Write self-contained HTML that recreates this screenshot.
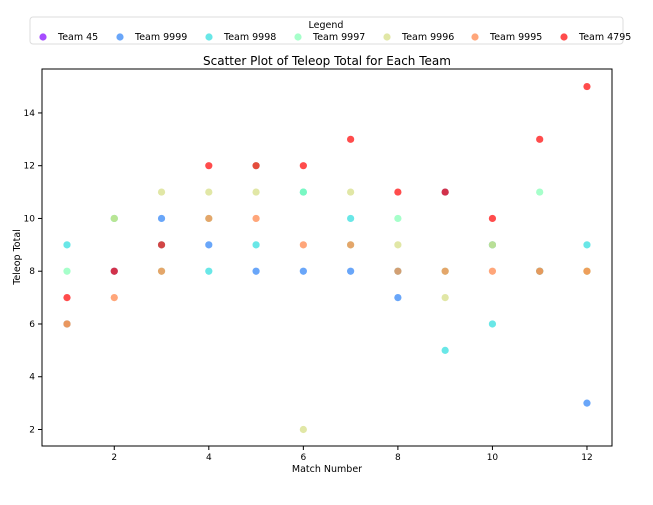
<!DOCTYPE html>
<html><head><meta charset="utf-8"><style>
body{margin:0;background:#fff;font-family:"Liberation Sans","DejaVu Sans",sans-serif;overflow:hidden}
svg text{font-family:"DejaVu Sans","Liberation Sans",sans-serif}
</style></head><body>
<svg id="chart" width="653" height="500" viewBox="0 0 653 500" xmlns="http://www.w3.org/2000/svg">
<rect x="30" y="17" width="593" height="27" rx="3" fill="#fff" stroke="#ddd"/>
<text x="326" y="28" font-size="9.5" text-anchor="middle">Legend</text>
<g id="legend"></g>
<text x="327" y="65" font-size="12" text-anchor="middle">Scatter Plot of Teleop Total for Each Team</text>
<rect x="42" y="69" width="570" height="377" fill="none" stroke="#000" stroke-width="1"/>
<g id="ticks"></g>
<g id="points"></g>
<text x="327" y="472" font-size="9.5" text-anchor="middle">Match Number</text>
<text x="20" y="257" font-size="9.5" text-anchor="middle" transform="rotate(-90 20 257)">Teleop Total</text>
</svg>
<script>
const teams = ["Team 45","Team 9999","Team 9998","Team 9997","Team 9996","Team 9995","Team 4795"];
const colors = ["#8000ff","#2a80f6","#2adddd","#80ffb4","#d4dd80","#ff8042","#ff0000"];
const matches = [1,2,3,4,5,6,7,8,9,10,11,12];
const team45 = [];
const team9999 = [6,8,10,9,8,8,8,7,11,9,8,3];
const team9998 = [9,10,9,8,9,11,10,8,5,6,8,9];
const team9997 = [8,10,8,10,12,11,9,10,8,9,11,8];
const team9996 = [6,10,11,11,11,2,11,9,7,9,8,8];
const team9995 = [6,7,8,10,10,9,9,8,8,8,8,8];
const team4795 = [7,8,9,12,12,12,13,11,11,10,13,15];
const xTicks = [2,4,6,8,10,12];
const yTicks = [2,4,6,8,10,12,14];
const series = [team45,team9999,team9998,team9997,team9996,team9995,team4795];
const NS="http://www.w3.org/2000/svg";
function xs(v){return 67+(v-1)*47.27;}
function ys(v){return 429.5-(v-2)*26.38;}
const tg=document.getElementById('ticks');
xTicks.forEach(t=>{
 const l=document.createElementNS(NS,'line');
 l.setAttribute('x1',xs(t));l.setAttribute('x2',xs(t));l.setAttribute('y1',446);l.setAttribute('y2',450);l.setAttribute('stroke','#000');
 
 
 tg.appendChild(l);
 const tx=document.createElementNS(NS,'text');
 tx.setAttribute('x',xs(t));tx.setAttribute('y',460);tx.setAttribute('font-size','9');tx.setAttribute('text-anchor','middle');tx.textContent=t;
 
 
 tg.appendChild(tx);
});
yTicks.forEach(t=>{
 const l=document.createElementNS(NS,'line');
 l.setAttribute('x1',38);l.setAttribute('x2',42);l.setAttribute('y1',ys(t));l.setAttribute('y2',ys(t));l.setAttribute('stroke','#000');
 
 
 tg.appendChild(l);
 const tx=document.createElementNS(NS,'text');
 tx.setAttribute('x',35);tx.setAttribute('y',ys(t)+3);tx.setAttribute('font-size','9');tx.setAttribute('text-anchor','end');tx.textContent=t;
 
 
 tg.appendChild(tx);
});
const pg=document.getElementById('points');
series.forEach((s,i)=>{
 s.forEach((v,j)=>{
  const c=document.createElementNS(NS,'circle');
  c.setAttribute('cx',xs(matches[j]));c.setAttribute('cy',ys(v));c.setAttribute('r',3.6);
  c.setAttribute('fill',colors[i]);c.setAttribute('fill-opacity','0.7');
  
  
  pg.appendChild(c);
 });
});
const lg=document.getElementById('legend');
const lx=[43,120,209,298,387,475,564];
teams.forEach((t,i)=>{
 const c=document.createElementNS(NS,'circle');
 c.setAttribute('cx',lx[i]);c.setAttribute('cy',37);c.setAttribute('r',3.6);c.setAttribute('fill',colors[i]);c.setAttribute('fill-opacity','0.7');
 
 
 lg.appendChild(c);
 const tx=document.createElementNS(NS,'text');
 tx.setAttribute('x',lx[i]+15);tx.setAttribute('y',40);tx.setAttribute('font-size','9.5');tx.textContent=t;
 
 
 lg.appendChild(tx);
});
</script>
</body></html>
